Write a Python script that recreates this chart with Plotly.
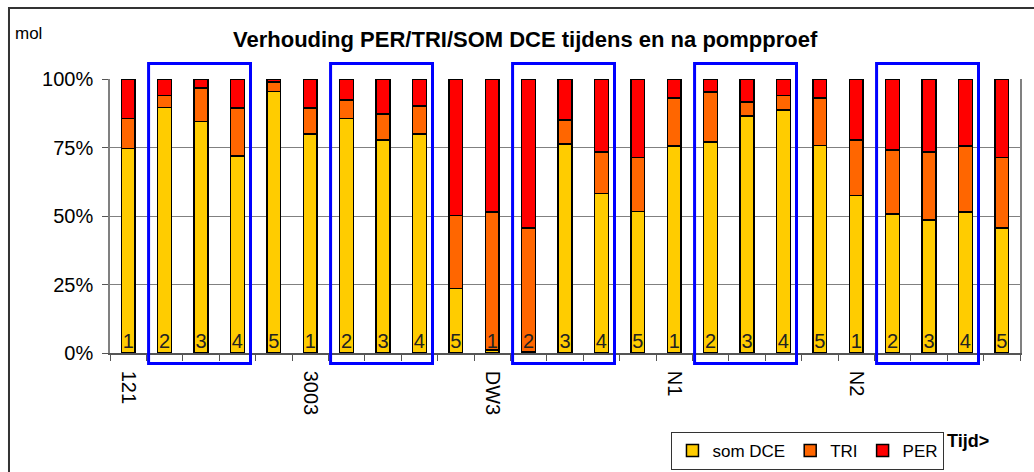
import plotly.graph_objects as go

# five sampling moments per well, left to right in time
wells = ["121", "3003", "DW3", "N1", "N2"]
moments = ["1", "2", "3", "4", "5"]

# molar share (%) per bar
som_dce = [74.7, 89.6, 84.4, 71.9, 95.4,
           79.9, 85.6, 77.7, 79.9, 23.6,
           1.1, 0.5, 76.3, 58.2, 51.6,
           75.5, 77.1, 86.5, 88.7, 75.7,
           57.4, 50.7, 48.5, 51.5, 45.7]
tri = [10.9, 4.3, 12.4, 17.5, 3.5,
       9.5, 6.7, 9.6, 10.2, 26.5,
       50.4, 45.2, 8.7, 15.2, 19.7,
       17.6, 18.2, 5.1, 5.2, 17.4,
       20.3, 23.4, 24.9, 24.0, 25.6]
per = [14.4, 6.1, 3.2, 10.6, 1.1,
       10.6, 7.7, 12.7, 9.9, 49.9,
       48.5, 54.3, 15.0, 26.6, 28.7,
       6.9, 4.7, 8.4, 6.1, 6.9,
       22.3, 25.9, 26.6, 24.5, 28.7]

colors = {"som DCE": "#FFCC00", "TRI": "#FF6600", "PER": "#FF0000"}
FONT = "Liberation Sans, Arial, sans-serif"

n = len(som_dce)
x = list(range(n))
bar_labels = [moments[i % 5] for i in x]

fig = go.Figure()
for name, vals in [("som DCE", som_dce), ("TRI", tri), ("PER", per)]:
    fig.add_trace(go.Bar(
        x=x, y=vals, name=name,
        marker=dict(color=colors[name], line=dict(color="black", width=1.5)),
    ))

# moment numbers at the foot of each bar
fig.add_trace(go.Scatter(
    x=x, y=[0] * n, mode="text", text=bar_labels,
    textposition="top center",
    textfont=dict(size=20, color="#222", family=FONT),
    showlegend=False, cliponaxis=False, hoverinfo="skip",
))

# blue boxes around moments 2-4 (during the pumping test)
shapes = []
for g in range(len(wells)):
    shapes.append(dict(
        type="rect", xref="x", yref="paper",
        x0=g * 5 + 1 - 0.44, x1=g * 5 + 3 + 0.36,
        y0=-0.038, y1=1.057,
        line=dict(color="#0000FF", width=3),
    ))
# outer chart frame
shapes.append(dict(
    type="rect", xref="paper", yref="paper",
    x0=-0.111, x1=1.2, y0=-1.0, y1=1.259,
    line=dict(color="#333", width=2), layer="below",
))

fig.update_layout(
    width=1034, height=472,
    margin=dict(l=110, r=14, t=79, b=119, autoexpand=False),
    barmode="stack", bargap=0.62,
    plot_bgcolor="white", paper_bgcolor="white",
    font=dict(family=FONT, size=20, color="black"),
    shapes=shapes,
    legend=dict(
        orientation="h", traceorder="normal",
        x=0.617, y=-0.288, xanchor="left", yanchor="top",
        bordercolor="#333", borderwidth=1,
        font=dict(size=17, family=FONT),
        itemwidth=30, tracegroupgap=0,
    ),
    annotations=[
        dict(text="<b>Verhouding PER/TRI/SOM DCE tijdens en na pompproef</b>",
             xref="paper", yref="paper", x=0.457, y=1.145,
             xanchor="center", yanchor="middle", showarrow=False,
             font=dict(size=22, family=FONT)),
        dict(text="mol", xref="paper", yref="paper", x=-0.107, y=1.165,
             xanchor="left", yanchor="middle", showarrow=False,
             font=dict(size=17, family=FONT)),
        dict(text="<b>Tijd></b>", xref="paper", yref="paper", x=0.943, y=-0.32,
             xanchor="center", yanchor="middle", showarrow=False,
             font=dict(size=18, family=FONT)),
    ],
)

fig.update_xaxes(
    range=[-0.5, n - 0.5],
    tickmode="array", tickvals=[g * 5 for g in range(len(wells))], ticktext=wells,
    tickangle=90, ticks="", ticklabelstandoff=12,
    showline=True, linecolor="#555", linewidth=1.5,
    showgrid=False, zeroline=False,
    minor=dict(tickmode="linear", tick0=-0.5, dtick=1,
               ticks="outside", ticklen=6, tickcolor="#555", showgrid=False),
)
fig.update_yaxes(
    range=[0, 100], tickmode="linear", tick0=0, dtick=25, ticksuffix="%",
    ticks="outside", ticklen=6, tickcolor="#555", ticklabelstandoff=5,
    showline=True, linecolor="#808080", linewidth=1.5, mirror=True,
    showgrid=True, gridcolor="#808080", gridwidth=1,
    zeroline=False,
)

# drop the browser's default 8px page margin so the chart sits at the corner
fig.write_html("out.html", config={"displayModeBar": False},
               post_script="document.body.style.margin='0';")
